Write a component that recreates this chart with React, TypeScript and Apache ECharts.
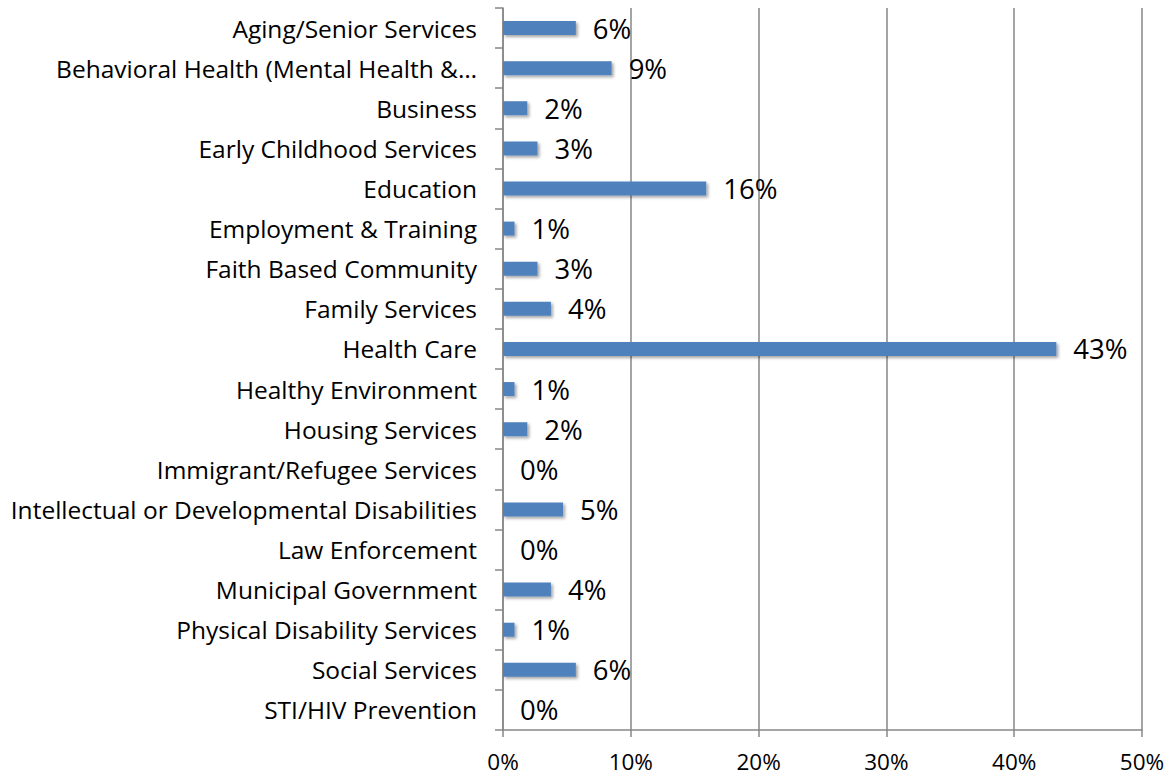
import React, { useEffect, useRef } from "react";
import * as echarts from "echarts";

const categories = [
  "Aging/Senior Services",
  "Behavioral Health (Mental Health &…",
  "Business",
  "Early Childhood Services",
  "Education",
  "Employment & Training",
  "Faith Based Community",
  "Family Services",
  "Health Care",
  "Healthy Environment",
  "Housing Services",
  "Immigrant/Refugee Services",
  "Intellectual or Developmental Disabilities",
  "Law Enforcement",
  "Municipal Government",
  "Physical Disability Services",
  "Social Services",
  "STI/HIV Prevention",
];

const values = [5.7, 8.5, 1.9, 2.7, 15.9, 0.9, 2.7, 3.75, 43.3, 0.9, 1.9, 0, 4.7, 0, 3.75, 0.9, 5.7, 0];

const xTicks = [0, 10, 20, 30, 40, 50];

const FONT = "'Open Sans', 'Noto Sans', sans-serif";
const GRAY = "#878787";

export default function App() {
  const ref = useRef<HTMLDivElement>(null);
  useEffect(() => {
    if (!ref.current) return;
    const chart = echarts.init(ref.current, null, { renderer: "svg" });
    chart.setOption({
      animation: false,
      backgroundColor: "#ffffff",
      grid: { left: 503, right: 30, top: 8, bottom: 46, containLabel: false },
      xAxis: {
        type: "value",
        min: xTicks[0],
        max: xTicks[xTicks.length - 1],
        interval: 10,
        axisLine: { show: true, lineStyle: { color: GRAY, width: 1.5 } },
        axisTick: { show: true, length: 7, lineStyle: { color: GRAY, width: 1.5 } },
        splitLine: { show: true, lineStyle: { color: GRAY, width: 1.5 } },
        axisLabel: {
          formatter: "{value}%",
          color: "#000",
          fontFamily: FONT,
          fontSize: 22.5,
          lineHeight: 23,
          margin: 20,
        },
      },
      yAxis: {
        type: "category",
        inverse: true,
        data: categories,
        axisLine: { show: true, lineStyle: { color: GRAY, width: 1.5 } },
        axisTick: { show: true, length: 8, lineStyle: { color: GRAY, width: 1.5 } },
        axisLabel: {
          color: "#000",
          fontFamily: FONT,
          fontSize: 24.5,
          margin: 26,
        },
      },
      series: [
        {
          type: "bar",
          data: values,
          barWidth: 14,
          itemStyle: {
            color: "#4F81BD",
            shadowColor: "rgba(0,0,0,0.35)",
            shadowBlur: 3,
            shadowOffsetX: 2,
            shadowOffsetY: 2,
          },
          label: {
            show: true,
            position: "right",
            distance: 17,
            color: "#000",
            fontFamily: FONT,
            fontSize: 27.5,
            formatter: (p: any) => Math.round(p.value) + "%",
          },
        },
      ],
    });
    return () => chart.dispose();
  }, []);
  return (
    <div
      ref={ref}
      style={{ position: "fixed", left: 0, top: 0, width: 1172, height: 776 }}
    />
  );
}
